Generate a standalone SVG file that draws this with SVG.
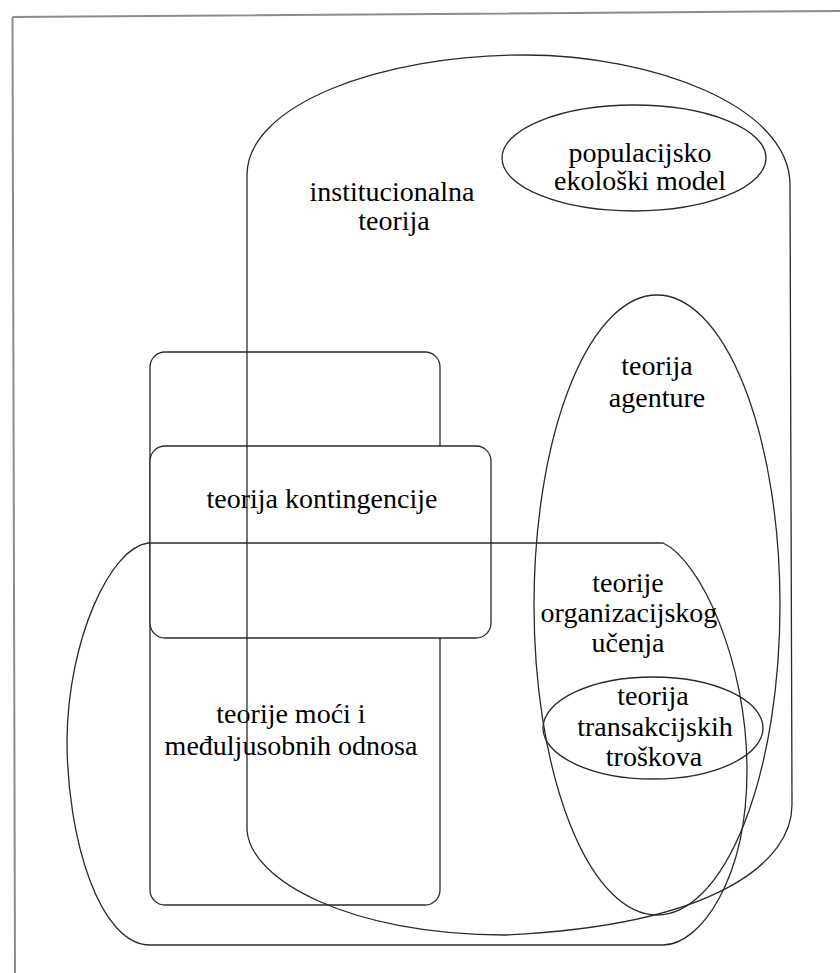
<svg xmlns="http://www.w3.org/2000/svg" width="840" height="973" viewBox="0 0 840 973">
<style>
.shape{fill:none;stroke:#2a2a2a;stroke-width:1.3}
.box{fill:#ffffff;stroke:#2a2a2a;stroke-width:1.3}
</style>
<rect x="0" y="0" width="840" height="973" fill="#ffffff"/>
<path d="M12.5,17 L840,11 M12.5,17 L15,973" fill="none" stroke="#8c8c8c" stroke-width="2"/>
<g id="power">
<rect class="shape" x="150" y="352" width="290" height="553" rx="15" ry="15"/>
<text x="291" y="723" font-family="Liberation Serif" font-size="28" text-anchor="middle">teorije moći i</text>
<text x="291" y="755" font-family="Liberation Serif" font-size="28" text-anchor="middle">međuljusobnih odnosa</text>
</g>
<g id="contingency">
<rect class="box" x="150" y="446" width="341" height="192" rx="15" ry="15"/>
</g>
<g id="institutional">
<path class="shape" d="M247,830 L247,175 C247,105 380,55 525,55 C650,55 790,105 790,185 L792,805 C792,860 720,925 505,935 C350,935 250,880 247,830 Z"/>
<text x="392" y="201" font-family="Liberation Serif" font-size="28" text-anchor="middle">institucionalna</text>
<text x="394" y="230" font-family="Liberation Serif" font-size="28" text-anchor="middle">teorija</text>
</g>
<g id="contingency-label">
<text x="322" y="508" font-family="Liberation Serif" font-size="28" text-anchor="middle">teorija kontingencije</text>
</g>
<g id="population">
<ellipse class="shape" cx="634" cy="158" rx="132" ry="53"/>
<text x="640" y="162" font-family="Liberation Serif" font-size="28" text-anchor="middle">populacijsko</text>
<text x="640" y="190" font-family="Liberation Serif" font-size="28" text-anchor="middle">ekološki model</text>
</g>
<g id="agency">
<ellipse class="shape" cx="657" cy="605" rx="123" ry="310"/>
<text x="657" y="375" font-family="Liberation Serif" font-size="28" text-anchor="middle">teorija</text>
<text x="657" y="407" font-family="Liberation Serif" font-size="28" text-anchor="middle">agenture</text>
</g>
<g id="learning">
<path class="shape" d="M148,543 L663,543 C700,560 747,660 747,770 C747,880 700,945 663,945 L150,945 C100,945 67,840 67,740 C68,640 110,548 148,543 Z"/>
<text x="628" y="592" font-family="Liberation Serif" font-size="28" text-anchor="middle">teorije</text>
<text x="629" y="622" font-family="Liberation Serif" font-size="28" text-anchor="middle">organizacijskog</text>
<text x="628" y="652" font-family="Liberation Serif" font-size="28" text-anchor="middle">učenja</text>
</g>
<g id="transaction">
<ellipse class="shape" cx="653" cy="728" rx="110" ry="51"/>
<text x="653" y="705" font-family="Liberation Serif" font-size="28" text-anchor="middle">teorija</text>
<text x="655" y="736" font-family="Liberation Serif" font-size="28" text-anchor="middle">transakcijskih</text>
<text x="654" y="766" font-family="Liberation Serif" font-size="28" text-anchor="middle">troškova</text>
</g>
</svg>
